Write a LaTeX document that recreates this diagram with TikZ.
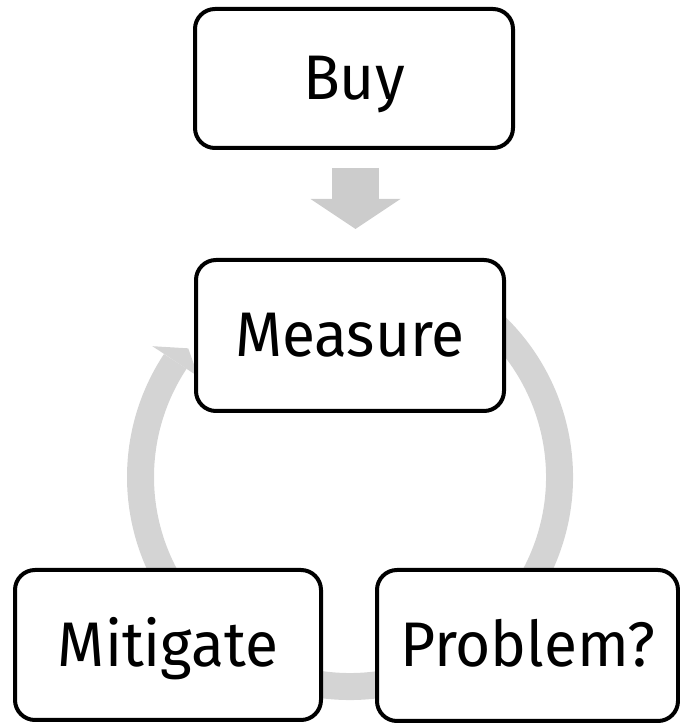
\documentclass[tikz,border=0pt]{standalone}
\usepackage{fontspec}
\setmainfont{Fira Sans}[FakeStretch=0.96]
\usetikzlibrary{arrows.meta,calc}
\definecolor{ringgray}{RGB}{212,212,212}
\definecolor{arrowgray}{RGB}{204,204,204}
\begin{document}
\begin{tikzpicture}[x=1pt,y=1pt,
  box/.style={draw=black, line width=4pt, rounded corners=20pt, fill=white,
    font=\fontsize{63}{70}\selectfont, text height=43pt, text depth=0pt, inner sep=0pt},
  ring/.style={draw=ringgray, line width=27pt},
  ringhead/.style={fill=ringgray},
  bigarrow/.style={draw=arrowgray, line width=47pt,
    -{Triangle[width=90pt 0, length=30pt 0, line width=0pt]}}
]
\useasboundingbox (0,0) rectangle (680,724);
\coordinate (ringc) at (350,247);
% cycle ring (behind the boxes)
\draw[ring] ($(ringc)+(65:209.5)$) arc[start angle=65, end angle=-213.5, radius=209.5];
\fill[ringhead] ($(ringc)+(146.5:237)$) -- ($(ringc)+(141.5:206.7)$) -- ($(ringc)+(146.5:182)$) -- cycle;
% boxes
\node[box, minimum width=318pt, minimum height=139pt] (Buy) at (354,645.5) {Buy};
\node[box, minimum width=308pt, minimum height=151pt] (Measure) at (350,388.5) {Measure};
\node[box, minimum width=306pt, minimum height=150pt] (Mitigate) at (168,79) {Mitigate};
\node[box, minimum width=301pt, minimum height=151pt] (Problem) at (527.5,78.5) {Problem?};
% Buy -> Measure
\draw[bigarrow, shorten <=18pt, shorten >=29pt] ([xshift=1.5pt]Buy.south) -- ([xshift=1.5pt]Buy.south |- Measure.north);
\end{tikzpicture}
\end{document}
